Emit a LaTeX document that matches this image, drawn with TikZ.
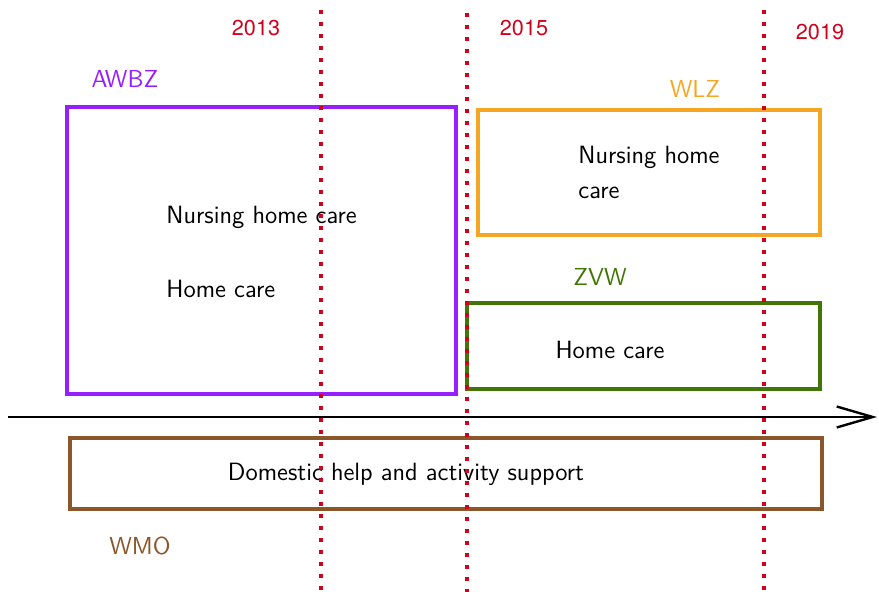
\documentclass[tikz,border=0pt]{standalone}
\usepackage{fontspec}
\newfontfamily\yearfont{TeX Gyre Heros}
\usetikzlibrary{arrows.meta}
\definecolor{cawbz}{RGB}{150,30,255}
\definecolor{cwlz}{RGB}{245,166,35}
\definecolor{czvw}{RGB}{65,117,5}
\definecolor{cwmo}{RGB}{139,87,42}
\definecolor{cyear}{RGB}{208,2,27}
\tikzset{
  box/.style={draw=#1, line width=2pt, rectangle, inner sep=0pt},
  lbl/.style={font=\fontsize{12.3}{14}\selectfont\sffamily, text=#1, inner sep=0pt},
  txt/.style={font=\fontsize{12.5}{15}\selectfont\sffamily, text=black, inner sep=0pt},
  yearlbl/.style={font=\fontsize{10.8}{13}\selectfont\yearfont, text=cyear, inner sep=0pt},
  yearline/.style={draw=cyear, line width=2pt, dash pattern=on 2pt off 4pt},
  axis/.style={draw=black, line width=1.2pt, -{Straight Barb[length=18pt,width=10.5pt,line width=1.2pt]}}
}
\begin{document}
\begin{tikzpicture}[x=0.5pt,y=-0.5pt]
\useasboundingbox (0,0) rectangle (879,592);
% boxes
\node[box=cawbz, minimum width=194.5pt, minimum height=143.5pt] (awbz) at (261.5,250.5) {};
\node[box=cwlz, minimum width=171pt, minimum height=62.5pt] (wlz) at (649,172.5) {};
\node[box=czvw, minimum width=176.5pt, minimum height=43pt] (zvw) at (643.5,346) {};
\node[box=cwmo, minimum width=376pt, minimum height=35.5pt] (wmo) at (446,473.5) {};
% labels
\node[lbl=cawbz] (lawbz) at (125,79) {AWBZ};
\node[lbl=cwlz] (lwlz) at (695,89) {WLZ};
\node[lbl=czvw] (lzvw) at (600,277) {ZVW};
\node[lbl=cwmo] (lwmo) at (140,546) {WMO};
% texts
\node[txt, anchor=west] (t1) at (166,217) {Nursing home care};
\node[txt, anchor=west] (t2) at (166,289) {Home care};
\node[txt, anchor=west] (t3) at (578,157) {Nursing home};
\node[txt, anchor=west] (t4) at (578,193) {care};
\node[txt] (t5) at (610,350) {Home care};
\node[txt] (t6) at (406,474) {Domestic help and activity support};
% axis
\coordinate (ax0) at (8,417);
\coordinate (ax1) at (877,417);
\draw[axis] (ax0) -- (ax1);
% year lines
\coordinate (y1t) at (321,10); \coordinate (y1b) at (321,592);
\coordinate (y2t) at (467,13); \coordinate (y2b) at (467,592);
\coordinate (y3t) at (764,10); \coordinate (y3b) at (764,592);
\draw[yearline] (y1t) -- (y1b);
\draw[yearline] (y2t) -- (y2b);
\draw[yearline] (y3t) -- (y3b);
\node[yearlbl] (l2013) at (256,28) {2013};
\node[yearlbl] (l2015) at (524,28) {2015};
\node[yearlbl] (l2019) at (820,32) {2019};
\end{tikzpicture}
\end{document}
